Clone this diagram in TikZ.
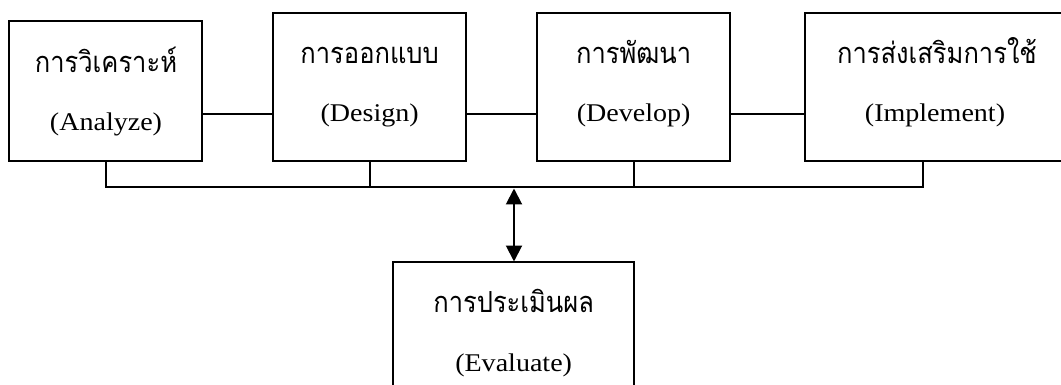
\documentclass[tikz,border=0pt]{standalone}
\usepackage{fontspec}
\setmainfont[FakeStretch=1.1]{Liberation Serif}
\newfontfamily\thaifont[Script=Thai,FakeStretch=0.88]{Loma}
\usetikzlibrary{arrows.meta}
\begin{document}
\begin{tikzpicture}[x=1pt,y=-1pt,
  boxshape/.style={draw, line width=2pt, inner sep=0pt},
  thlabel/.style={anchor=base, inner sep=0pt, font=\thaifont\fontsize{29}{34}\selectfont},
  enlabel/.style={anchor=base, inner sep=0pt, font=\fontsize{25.5}{30}\selectfont},
  link/.style={line width=2pt},
  twoway/.style={line width=2pt, {Triangle[width=16pt,length=16pt]}-{Triangle[width=16pt,length=16pt]}}
]
\clip (0,0) rectangle (1061,385);
\useasboundingbox (0,0) rectangle (1061,385);
% boxes
\draw[boxshape] (9.3,21.3) rectangle (201.7,160.7);
\node[inner sep=0pt, minimum width=192.4pt, minimum height=139.4pt] (A) at (105.5,91) {};
\draw[boxshape] (273.3,12.7) rectangle (466,160.7);
\node[inner sep=0pt, minimum width=192.7pt, minimum height=148pt] (D) at (369.65,86.7) {};
\draw[boxshape] (537.3,12.7) rectangle (730,160.7);
\node[inner sep=0pt, minimum width=192.7pt, minimum height=148pt] (V) at (633.65,86.7) {};
\draw[boxshape] (805,12.7) rectangle (1066,160.7);
\node[inner sep=0pt, minimum width=261pt, minimum height=148pt] (I) at (935.5,86.7) {};
\draw[boxshape] (393.3,261.7) rectangle (634,400);
\node[inner sep=0pt, minimum width=240.7pt, minimum height=138.3pt] (E) at (513.65,330.85) {};
% texts
\node[thlabel] (A1) at (106,72.3) {การวิเคราะห์};
\node[enlabel] (A2) at (106,130.3) {(Analyze)};
\node[thlabel] (D1) at (369.65,63.7) {การออกแบบ};
\node[enlabel] (D2) at (369.65,121.3) {(Design)};
\node[thlabel] (V1) at (633.65,63.7) {การพัฒนา};
\node[enlabel] (V2) at (633.65,121.3) {(Develop)};
\node[thlabel] (I1) at (937,63.7) {การส่งเสริมการใช้};
\node[enlabel] (I2) at (935,121.3) {(Implement)};
\node[thlabel] (E1) at (513.65,312.7) {การประเมินผล};
\node[enlabel] (E2) at (513.65,371.7) {(Evaluate)};
% connectors
\draw[link] (A.east |- 0,114) -- (D.west |- 0,114);
\draw[link] (D.east |- 0,114) -- (V.west |- 0,114);
\draw[link] (V.east |- 0,114) -- (I.west |- 0,114);
\coordinate (busL) at (106,187.5);
\coordinate (busR) at (922.7,187.5);
\coordinate (busM) at (514,187.5);
\draw[link] (106,162.5) -- (busL) -- (busR) -- (922.7,162.5);
\draw[link] (370,162.5) -- (370,187.5);
\draw[link] (634,162.5) -- (634,187.5);
\draw[twoway] (busM) ++(0,1) -- (E.north -| busM);
\end{tikzpicture}
\end{document}
